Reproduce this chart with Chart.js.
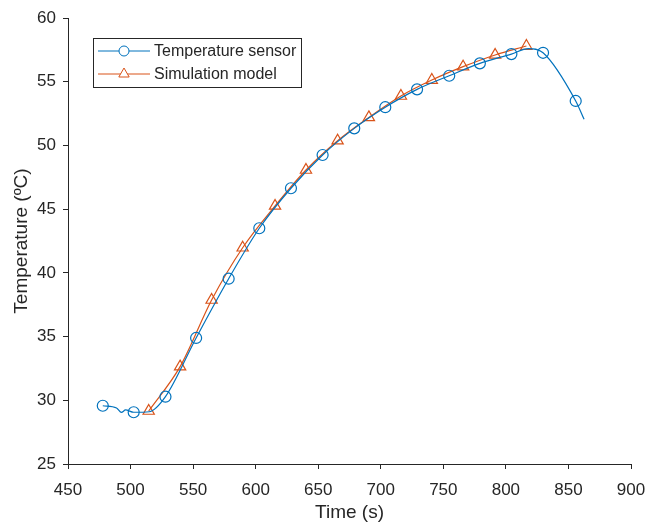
<!DOCTYPE html>
<html>
<head>
<meta charset="utf-8">
<script src="https://cdn.jsdelivr.net/npm/chart.js@4.4.0/dist/chart.umd.min.js"></script>
<style>
  html, body { margin: 0; padding: 0; background: #ffffff; }
  #wrap { width: 654px; height: 524px; }
</style>
</head>
<body>
<div id="wrap"><canvas id="c" width="654" height="524"></canvas></div>
<script>
// ---- data ----
const seriesNames = ["Temperature sensor", "Simulation model"];

// sensor: marked measurement points
const sensorTime = [477.8, 502.5, 527.9, 552.4, 578.4, 602.9, 628.2, 653.5, 678.8, 703.6, 729.0, 754.7, 779.2, 804.4, 829.7, 855.8];
const sensorTemp = [29.57, 29.06, 30.28, 34.89, 39.54, 43.50, 46.64, 49.25, 51.34, 53.00, 54.40, 55.47, 56.44, 57.17, 57.27, 53.49];
// sensor: extra points of the recorded curve (between markers)
const sensorExtraTime = [488.8, 492.7, 496.0, 515.0, 818.0, 862.5];
const sensorExtraTemp = [29.40, 29.05, 29.24, 29.10, 57.60, 52.05];

// simulation model points
const simTime = [514.5, 539.6, 564.8, 589.6, 615.5, 640.2, 665.5, 690.5, 716.1, 740.8, 765.8, 791.4, 816.4];
const simTemp = [29.16, 32.64, 37.87, 41.97, 45.25, 48.07, 50.37, 52.20, 53.88, 55.13, 56.18, 57.10, 57.80];

const xTicks = [450, 500, 550, 600, 650, 700, 750, 800, 850, 900];
const yTicks = [25, 30, 35, 40, 45, 50, 55, 60];
const xTitle = "Time (s)";
const yTitle = "Temperature (ºC)";

// ---- build ----
const toXY = (xs, ys) => xs.map((x, i) => ({ x: x, y: ys[i] }));
const sensorMarks = toXY(sensorTime, sensorTemp);
const sensorCurve = sensorMarks.concat(toXY(sensorExtraTime, sensorExtraTemp)).sort((a, b) => a.x - b.x);
const simPts = toXY(simTime, simTemp);

const BLUE = "#0072BD";
const ORANGE = "#D95319";
const INK = "#262626";
const FONT = "'Liberation Sans', Arial, Helvetica, sans-serif";

const legendPlugin = {
  id: "boxLegend",
  afterDraw(chart) {
    const ctx = chart.ctx;
    const bx = 93.5, by = 38.5, bw = 208, bh = 49;
    ctx.save();
    ctx.fillStyle = "#ffffff";
    ctx.fillRect(bx, by, bw, bh);
    ctx.strokeStyle = INK;
    ctx.lineWidth = 1;
    ctx.strokeRect(bx, by, bw, bh);
    const rows = [
      { name: seriesNames[0], color: BLUE, style: "circle", y: 51 },
      { name: seriesNames[1], color: ORANGE, style: "triangle", y: 74 }
    ];
    rows.forEach(r => {
      ctx.strokeStyle = r.color;
      ctx.lineWidth = 1;
      ctx.beginPath();
      ctx.moveTo(98, r.y);
      ctx.lineTo(150, r.y);
      ctx.stroke();
      ctx.fillStyle = "#ffffff";
      Chart.helpers.drawPoint(ctx, { pointStyle: r.style, radius: r.style === "circle" ? 5 : 6, borderWidth: 1 }, 124, r.y);
      ctx.fillStyle = INK;
      ctx.font = "16px " + FONT;
      ctx.textBaseline = "middle";
      ctx.textAlign = "left";
      ctx.fillText(r.name, 154, r.y + 1);
    });
    ctx.restore();
  }
};

new Chart(document.getElementById("c"), {
  type: "scatter",
  data: {
    datasets: [
      {
        label: seriesNames[0] + " curve",
        data: sensorCurve,
        showLine: true,
        borderColor: BLUE,
        borderWidth: 1.2,
        pointRadius: 0,
        cubicInterpolationMode: "monotone",
        fill: false
      },
      {
        label: seriesNames[0],
        data: sensorMarks,
        showLine: false,
        borderColor: BLUE,
        backgroundColor: "rgba(0,0,0,0)",
        borderWidth: 1.2,
        pointStyle: "circle",
        pointRadius: 5.5
      },
      {
        label: seriesNames[1],
        data: simPts,
        showLine: true,
        borderColor: ORANGE,
        backgroundColor: "rgba(0,0,0,0)",
        borderWidth: 1.2,
        cubicInterpolationMode: "monotone",
        pointStyle: "triangle",
        pointRadius: 6.5,
        fill: false
      }
    ]
  },
  options: {
    responsive: false,
    animation: false,
    layout: { padding: { top: 18, right: 23, left: 0, bottom: 0 } },
    plugins: { legend: { display: false }, tooltip: { enabled: false } },
    scales: {
      x: {
        type: "linear",
        min: 450, max: 900,
        afterBuildTicks(axis) { axis.ticks = xTicks.map(v => ({ value: v })); },
        afterFit(axis) { axis.height = 60; axis.paddingLeft = 0; axis.paddingRight = 0; },
        border: { display: true, color: INK, width: 1 },
        grid: { display: true, drawOnChartArea: false, drawTicks: true, tickLength: 5, tickColor: INK },
        ticks: { color: INK, font: { family: FONT, size: 17 }, padding: 11, maxRotation: 0 },
        title: { display: true, text: xTitle, color: INK, font: { family: FONT, size: 19 }, padding: { top: 0, bottom: 0 } }
      },
      y: {
        type: "linear",
        min: 25, max: 60,
        afterBuildTicks(axis) { axis.ticks = yTicks.map(v => ({ value: v })); },
        afterFit(axis) { axis.width = 68; axis.paddingTop = 0; axis.paddingBottom = 0; },
        border: { display: true, color: INK, width: 1 },
        grid: { display: true, drawOnChartArea: false, drawTicks: true, tickLength: 5, tickColor: INK },
        ticks: { color: INK, font: { family: FONT, size: 17 }, padding: 7 },
        title: { display: true, text: yTitle, color: INK, font: { family: FONT, size: 19 }, padding: { top: 10.5, bottom: 0 } }
      }
    }
  },
  plugins: [legendPlugin]
});
</script>
</body>
</html>
